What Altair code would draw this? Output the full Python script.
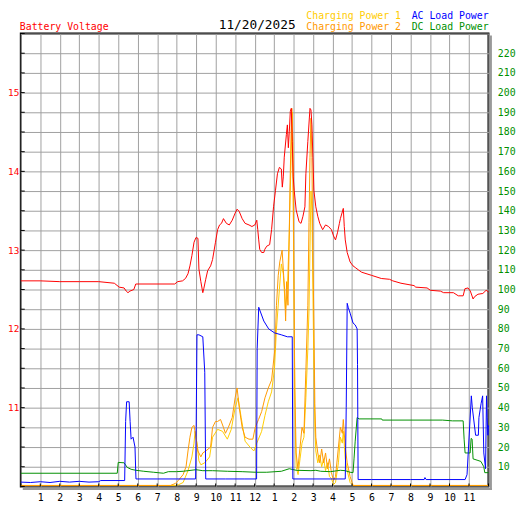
import altair as alt
import pandas as pd

# ---------------- data: (hour, value) ----------------
battery_voltage = [
    (0.0, 12.61), (1.0, 12.61), (2.0, 12.60), (3.0, 12.60), (4.0, 12.60), (4.8, 12.58),
    (5.05, 12.53), (5.3, 12.52), (5.41, 12.48), (5.5, 12.46), (5.6, 12.48), (5.8, 12.50),
    (5.9, 12.57), (7.9, 12.57), (8.05, 12.60), (8.3, 12.61), (8.45, 12.64), (8.58, 12.70),
    (8.68, 12.80), (8.78, 12.93), (8.89, 13.10), (8.99, 13.16), (9.09, 13.15), (9.14, 12.76),
    (9.24, 12.60), (9.34, 12.46), (9.39, 12.51), (9.49, 12.63), (9.59, 12.74), (9.74, 12.80),
    (9.84, 12.88), (9.99, 13.10), (10.10, 13.26), (10.20, 13.32), (10.30, 13.34), (10.40, 13.40),
    (10.55, 13.34), (10.70, 13.32), (10.85, 13.38), (11.00, 13.47), (11.10, 13.52), (11.21, 13.49),
    (11.36, 13.40), (11.51, 13.34), (11.71, 13.32), (11.86, 13.30), (12.01, 13.32), (12.11, 13.38),
    (12.16, 13.26), (12.21, 13.13), (12.26, 13.01), (12.36, 12.97), (12.47, 12.97), (12.52, 13.01),
    (12.62, 13.05), (12.77, 13.07), (12.87, 13.26), (12.97, 13.55), (13.07, 13.76), (13.17, 13.97),
    (13.27, 14.05), (13.37, 14.03), (13.42, 13.80), (13.47, 13.93), (13.52, 14.18), (13.63, 14.47),
    (13.68, 14.59), (13.73, 14.30), (13.78, 14.51), (13.83, 14.76), (13.88, 14.80), (13.93, 14.38),
    (13.98, 13.93), (14.03, 13.76), (14.13, 13.51), (14.28, 13.36), (14.38, 13.34), (14.48, 13.43),
    (14.58, 13.55), (14.63, 13.97), (14.73, 14.38), (14.84, 14.80), (14.89, 14.78), (14.94, 14.59),
    (14.99, 14.18), (15.04, 13.76), (15.14, 13.55), (15.24, 13.43), (15.34, 13.34), (15.49, 13.26),
    (15.64, 13.32), (15.79, 13.30), (15.94, 13.26), (16.05, 13.18), (16.15, 13.13), (16.25, 13.22),
    (16.35, 13.34), (16.40, 13.40), (16.55, 13.53), (16.60, 13.30), (16.65, 13.13), (16.75, 12.97),
    (16.90, 12.85), (17.05, 12.80), (17.16, 12.78), (17.32, 12.75), (17.49, 12.72), (18.0, 12.68),
    (18.5, 12.64), (18.92, 12.63), (19.09, 12.61), (19.51, 12.58), (20.18, 12.55), (20.27, 12.53),
    (20.85, 12.52), (21.02, 12.49), (21.53, 12.48), (21.7, 12.46), (22.2, 12.46), (22.45, 12.42),
    (22.70, 12.42), (22.79, 12.51), (22.95, 12.52), (23.07, 12.48), (23.21, 12.38), (23.29, 12.41),
    (23.46, 12.44), (23.71, 12.45), (23.88, 12.49), (24.0, 12.47),
]

ac_load = [
    (0.0, 2.2), (0.5, 2.0), (1.0, 2.4), (1.5, 2.0), (2.0, 2.6), (2.5, 2.2), (3.0, 2.6), (3.5, 2.2),
    (4.0, 2.4), (4.1, 3.0), (5.33, 3.0), (5.38, 33), (5.43, 43), (5.56, 43), (5.61, 33), (5.66, 24),
    (5.76, 25), (5.86, 20), (5.91, 3.8), (7.0, 3.8), (8.0, 3.8), (8.97, 3.8), (9.0, 30), (9.04, 77),
    (9.14, 77), (9.34, 76), (9.44, 58), (9.49, 3.8), (10.5, 3.8), (11.5, 3.8), (12.10, 3.8),
    (12.13, 70), (12.21, 91), (12.47, 84), (12.72, 80), (13.02, 78), (13.37, 77), (13.68, 76),
    (13.93, 76), (13.96, 3.8), (15.0, 3.8), (16.0, 3.8), (16.65, 3.8), (16.70, 40), (16.75, 93),
    (16.80, 91), (16.90, 88), (17.05, 83), (17.16, 82), (17.26, 80), (17.28, 62), (17.31, 3.5),
    (18.0, 3.5), (20.0, 3.5), (20.70, 3.5), (20.74, 4.5), (20.80, 3.5), (22.80, 3.5), (22.90, 6),
    (23.12, 46), (23.17, 40), (23.34, 26), (23.48, 26), (23.51, 35), (23.62, 42), (23.70, 46),
    (23.76, 17), (23.85, 9), (23.90, 46), (23.93, 35), (23.97, 26), (24.0, 31),
]

dc_load = [
    (0.0, 6.7), (4.95, 6.7), (5.0, 12.2), (5.30, 12.0), (5.46, 9.7), (5.66, 8.7), (5.91, 8.2),
    (6.31, 7.7), (6.82, 7.2), (7.32, 6.7), (7.57, 7.5), (7.98, 7.5), (8.33, 7.7), (8.99, 8.5),
    (9.34, 8.0), (9.84, 8.0), (10.6, 7.7), (11.36, 7.5), (12.06, 7.2), (12.62, 7.2), (13.37, 7.7),
    (13.78, 9.0), (14.13, 8.2), (14.89, 8.0), (15.14, 8.2), (15.39, 7.7), (15.89, 7.5), (16.40, 8.2),
    (16.65, 8.0), (16.90, 7.2), (17.05, 7.0), (17.10, 14), (17.16, 23), (17.26, 35), (17.36, 34.3),
    (18.52, 34.3), (18.55, 33.7), (21.64, 33.7), (22.15, 33.3), (22.70, 33.3), (22.75, 24),
    (22.80, 17), (23.06, 17), (23.11, 24.4), (23.16, 24), (23.21, 14), (23.46, 13.2), (23.61, 12.7),
    (23.76, 10), (23.81, 7), (24.0, 7),
]

charging_2 = [
    (0.0, 0.5), (7.68, 0.5), (7.93, 1.5), (8.08, 3), (8.33, 6), (8.48, 10), (8.58, 18), (8.68, 25),
    (8.78, 30), (8.89, 31), (8.99, 25), (9.09, 18), (9.24, 15), (9.34, 17), (9.49, 18), (9.74, 20),
    (9.84, 30), (9.99, 33), (10.10, 33), (10.25, 34), (10.40, 30), (10.50, 27), (10.65, 30),
    (10.85, 35), (11.00, 45), (11.10, 50), (11.21, 40), (11.36, 30), (11.51, 25), (11.71, 24),
    (11.91, 24), (12.03, 30), (12.20, 34), (12.36, 38), (12.53, 45), (12.70, 50), (12.87, 54),
    (13.04, 70), (13.12, 92), (13.21, 107), (13.29, 114), (13.41, 120), (13.49, 107), (13.54, 100),
    (13.59, 84), (13.64, 104), (13.71, 92), (13.76, 117), (13.81, 150), (13.88, 184), (13.91, 192),
    (13.96, 175), (14.01, 117), (14.06, 50), (14.13, 17), (14.22, 9), (14.30, 17), (14.33, 20),
    (14.43, 30), (14.53, 27), (14.63, 59), (14.73, 92), (14.79, 134), (14.84, 167), (14.89, 187),
    (14.94, 167), (14.99, 117), (15.04, 84), (15.09, 42), (15.14, 25), (15.24, 17), (15.34, 12),
    (15.44, 19), (15.54, 12), (15.64, 17), (15.74, 9), (15.84, 14), (15.94, 7), (16.05, 3),
    (16.15, 5), (16.30, 20), (16.40, 30), (16.50, 27), (16.55, 34), (16.65, 20), (16.75, 12),
    (16.90, 5), (17.05, 0.5), (24.0, 0.5),
]

charging_1 = [
    (0.0, 0.5), (7.93, 0.5), (8.08, 0.8), (8.33, 2), (8.58, 8), (8.78, 15), (8.89, 22), (8.94, 28),
    (9.04, 22), (9.14, 13), (9.24, 11), (9.44, 12), (9.69, 15), (9.84, 25), (10.10, 29), (10.35, 28),
    (10.60, 24), (10.80, 29), (11.00, 40), (11.15, 45), (11.31, 35), (11.51, 23), (11.76, 20),
    (11.96, 18), (12.11, 22), (12.36, 28), (12.53, 36), (12.70, 43), (12.87, 48), (13.02, 60),
    (13.12, 80), (13.27, 100), (13.37, 113), (13.47, 108), (13.58, 90), (13.68, 100), (13.78, 130),
    (13.88, 170), (13.93, 190), (13.98, 145), (14.03, 80), (14.08, 30), (14.13, 10), (14.23, 6),
    (14.33, 14), (14.43, 22), (14.53, 25), (14.63, 45), (14.73, 70), (14.79, 90), (14.84, 120),
    (14.89, 150), (14.94, 140), (14.99, 100), (15.04, 60), (15.09, 30), (15.14, 18), (15.24, 12),
    (15.34, 16), (15.44, 10), (15.54, 14), (15.64, 8), (15.74, 12), (15.84, 5), (15.94, 4),
    (16.05, 1), (16.15, 2), (16.30, 12), (16.40, 25), (16.50, 22), (16.55, 28), (16.65, 14),
    (16.75, 8), (16.90, 2), (17.05, 0.5), (24.0, 0.5),
]

hour_ticks = list(range(0, 25))
hour_labels = ["", "1", "2", "3", "4", "5", "6", "7", "8", "9", "10", "11", "12",
               "1", "2", "3", "4", "5", "6", "7", "8", "9", "10", "11", ""]
volt_ticks = [10 + 0.25 * i for i in range(24)]
power_ticks = list(range(0, 231, 10))

date_text = "11/20/2025"

RED = "#FF0000"
GOLD = "#FFCC00"
ORANGE = "#FF9900"
BLUE = "#0000FF"
GREEN = "#009000"
GRID = "#A0A0A0"
FONT = "DejaVu Sans Mono"

W, H = 475, 460

x_scale = alt.Scale(domain=[0, 24], nice=False, zero=False)
v_scale = alt.Scale(domain=[10, 15.75], nice=False, zero=False)
p_scale = alt.Scale(domain=[0, 230], nice=False)

label_expr_x = "[" + ",".join("'%s'" % s for s in hour_labels) + "][datum.value]"

x_axis = alt.Axis(values=hour_ticks, labelExpr=label_expr_x, grid=True, gridColor=GRID,
                  gridWidth=1, ticks=False, domain=False, labelPadding=6, labelColor="black",
                  labelFont=FONT, labelFontSize=10, title=None)
v_axis = alt.Axis(orient="left", values=volt_ticks,
                  labelExpr="(datum.value % 1 == 0 && datum.value > 10) ? format(datum.value, 'd') : ''",
                  grid=True, gridColor=GRID, gridWidth=1, ticks=False, domain=False,
                  labelPadding=2, labelColor=RED, labelFont=FONT, labelFontSize=9.5, title=None)
p_axis = alt.Axis(orient="right", values=power_ticks,
                  labelExpr="(datum.value >= 10 && datum.value <= 220) ? format(datum.value, 'd') : ''",
                  grid=False, ticks=False, domain=False, labelPadding=9, labelColor=GREEN,
                  labelFont=FONT, labelFontSize=10, title=None)


def to_df(pairs):
    return pd.DataFrame(pairs, columns=["h", "v"])


def series(pairs, color, axis, scale):
    return alt.Chart(to_df(pairs)).mark_line(color=color, strokeWidth=1).encode(
        x=alt.X("h:Q", scale=x_scale, axis=x_axis),
        y=alt.Y("v:Q", scale=scale, axis=axis),
    )


gold = series(charging_1, GOLD, p_axis, p_scale)
orange = series(charging_2, ORANGE, p_axis, p_scale)
green = series(dc_load, GREEN, p_axis, p_scale)
blue = series(ac_load, BLUE, p_axis, p_scale)
power_layer = alt.layer(gold, orange, green, blue)

red = series(battery_voltage, RED, v_axis, v_scale)
left_ticks = alt.Chart(pd.DataFrame({"v": volt_ticks})).mark_rule(
    color="black", strokeWidth=1).encode(
    y=alt.Y("v:Q", scale=v_scale, axis=v_axis),
    x=alt.value(0), x2=alt.value(4),
)
volt_layer = alt.layer(red, left_ticks)

bottom_ticks = alt.Chart(pd.DataFrame({"h": hour_ticks})).mark_rule(
    color="black", strokeWidth=1).encode(
    x=alt.X("h:Q", scale=x_scale, axis=x_axis),
    y=alt.value(H), y2=alt.value(H - 3),
)

one = pd.DataFrame({"k": [0]})
shadow_r = alt.Chart(one).mark_rule(color="#999999", strokeWidth=2).encode(
    x=alt.value(W + 2.5), y=alt.value(2), y2=alt.value(H + 3.5))
shadow_b = alt.Chart(one).mark_rule(color="#999999", strokeWidth=2).encode(
    x=alt.value(2), x2=alt.value(W + 3.5), y=alt.value(H + 2.5))


def label(text, px, py, color, size=10):
    return alt.Chart(pd.DataFrame({"t": [text]})).mark_text(
        align="left", baseline="alphabetic", font=FONT, fontSize=size, color=color).encode(
        text="t:N", x=alt.value(px), y=alt.value(py))


texts = [
    label("Battery Voltage", -1, -4, RED),
    label(date_text, 201, -5, "black", 13),
    label("Charging Power 1", 290, -15, GOLD),
    label("Charging Power 2", 290, -4, ORANGE),
    label("AC Load Power", 397, -15, BLUE),
    label("DC Load Power", 397, -4, GREEN),
]

chart = alt.layer(
    alt.layer(power_layer, volt_layer).resolve_scale(y="independent"),
    bottom_ticks, shadow_r, shadow_b, *texts,
).properties(
    width=W, height=H,
    padding={"left": 13, "top": 22, "right": 31, "bottom": 20},
    autosize=alt.AutoSizeParams(type="none"),
    background="white",
).configure_view(stroke="black", strokeWidth=2)

chart.save("out.html", embed_options={"renderer": "svg", "actions": False})
